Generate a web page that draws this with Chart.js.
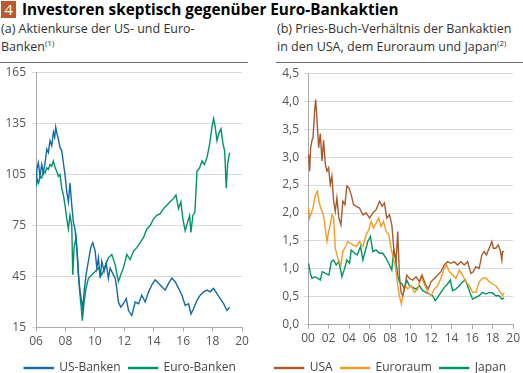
<!DOCTYPE html>
<html>
<head>
<meta charset="utf-8">
<script src="https://cdn.jsdelivr.net/npm/chart.js@4"></script>
<style>
  html, body { margin: 0; padding: 0; background: #fff; overflow: hidden; width: 523px; height: 373px; }
  body { position: relative; font-family: "Open Sans", "Noto Sans", sans-serif; }
  #title { position: absolute; left: 0; top: 0; font-size: 15.3px; font-weight: bold; color: #000; white-space: nowrap; line-height: 18px; }
  #title .num { display: inline-block; background: #bb5a2c; color: #fff; font-weight: normal; width: 15px; height: 17px; text-align: center; margin: 1px 6px 0 1px; line-height: 17px; }
  .sub { position: absolute; top: 20px; font-size: 12.5px; color: #333; line-height: 18px; white-space: nowrap; }
  .sub sup { font-size: 8px; vertical-align: 5px; line-height: 0; }
  .rule { position: absolute; top: 62px; height: 1px; border-top: 1.4px solid #6a6a6a; }
  canvas { position: absolute; }
</style>
</head>
<body>
<div id="title"><span class="num">4</span>Investoren skeptisch gegenüber Euro-Bankaktien</div>
<div class="sub" style="left:1px">(a) Aktienkurse der US- und Euro-<br>Banken<sup>(1)</sup></div>
<div class="sub" style="left:277px">(b) Pries-Buch-Verhältnis der Bankaktien<br>in den USA, dem Euroraum und Japan<sup>(2)</sup></div>
<div class="rule" style="left:0;width:248px"></div>
<div class="rule" style="left:276px;width:247px"></div>
<canvas id="c1" style="left:0;top:56px" width="262" height="328"></canvas>
<canvas id="c2" style="left:262px;top:56px" width="261" height="328"></canvas>
<script>
// ---- Panel (a): share prices ----
const leftTicks = [15, 45, 75, 105, 135, 165];
const leftYearTicks = ['06','08','10','12','14','16','18','20'];

const usYears = [2006.00,2006.05,2006.16,2006.27,2006.39,2006.50,2006.62,2006.73,2006.84,2006.95,2007.07,2007.18,2007.27,2007.34,2007.43,2007.52,2007.63,2007.75,2007.86,2007.97,2008.09,2008.20,2008.31,2008.43,2008.54,2008.65,2008.77,2008.88,2009.00,2009.11,2009.18,2009.27,2009.40,2009.56,2009.72,2009.86,2010.02,2010.13,2010.24,2010.36,2010.47,2010.63,2010.77,2010.92,2011.04,2011.15,2011.26,2011.38,2011.49,2011.60,2011.76,2011.94,2012.13,2012.29,2012.51,2012.74,2012.97,2013.19,2013.42,2013.65,2013.87,2014.10,2014.33,2014.55,2014.78,2015.01,2015.23,2015.46,2015.69,2015.92,2016.14,2016.37,2016.53,2016.71,2016.94,2017.16,2017.39,2017.62,2017.84,2018.07,2018.30,2018.52,2018.75,2018.98,2019.16];
const usBanken = [100,108,112,104,111,106,112,120,118,125,122,130,127,133,129,126,121,119,112,105,95,89,100,87,77,73,62,46,36,30,26,36,46,54,62,65,60,50,56,44,54,48,53,44,50,48,46,44,38,30,27,29,32,25,22,30,29,34,30,36,40,43,41,39,37,41,44,42,38,34,28,29,23,26,31,34,36,37,36,38,35,32,29,25,27];

const euYears = [2006.00,2006.09,2006.18,2006.27,2006.39,2006.50,2006.62,2006.73,2006.84,2006.95,2007.07,2007.18,2007.30,2007.41,2007.52,2007.63,2007.75,2007.86,2007.97,2008.09,2008.20,2008.31,2008.43,2008.50,2008.59,2008.72,2008.84,2008.95,2009.06,2009.15,2009.27,2009.40,2009.56,2009.79,2010.02,2010.24,2010.47,2010.70,2010.92,2011.15,2011.38,2011.60,2011.76,2011.94,2012.17,2012.40,2012.63,2012.85,2013.08,2013.31,2013.53,2013.76,2013.99,2014.21,2014.44,2014.67,2014.89,2015.12,2015.35,2015.51,2015.69,2015.85,2015.98,2016.14,2016.30,2016.44,2016.53,2016.66,2016.80,2016.94,2017.12,2017.28,2017.44,2017.62,2017.80,2017.96,2018.07,2018.18,2018.30,2018.41,2018.57,2018.71,2018.82,2018.93,2019.02,2019.16];
const euroBanken = [98,102,100,104,103,107,106,109,108,111,110,113,109,107,104,105,97,93,87,79,73,81,75,46,62,68,54,38,28,19,30,38,44,46,48,50,46,51,56,58,52,42,46,50,58,55,60,62,65,68,73,75,79,81,82,85,87,89,91,93,85,89,79,72,77,81,71,81,83,107,109,113,111,115,123,133,138,133,125,129,132,123,119,97,111,118];

// ---- Panel (b): price-to-book ratios ----
const rightTicks = [0, 0.5, 1, 1.5, 2, 2.5, 3, 3.5, 4, 4.5];
const rightYearTicks = ['00','02','04','06','08','10','12','14','16','18','20'];

const usaYears = [2000.06,2000.16,2000.26,2000.39,2000.49,2000.65,2000.75,2000.88,2001.04,2001.20,2001.36,2001.52,2001.69,2001.85,2002.01,2002.17,2002.33,2002.50,2002.66,2002.82,2003.01,2003.21,2003.40,2003.60,2003.79,2003.99,2004.21,2004.44,2004.70,2005.02,2005.35,2005.67,2006.00,2006.32,2006.64,2006.97,2007.23,2007.45,2007.68,2007.94,2008.17,2008.36,2008.59,2008.75,2008.91,2009.07,2009.24,2009.40,2009.63,2009.89,2010.21,2010.53,2010.86,2011.12,2011.44,2011.73,2011.99,2012.32,2012.64,2012.96,2013.29,2013.61,2013.94,2014.26,2014.58,2014.91,2015.23,2015.56,2015.88,2016.11,2016.37,2016.69,2016.95,2017.18,2017.40,2017.66,2017.92,2018.08,2018.31,2018.54,2018.73,2018.90,2018.96,2019.12];
const usaPB = [3.05,2.75,3.17,3.30,3.35,3.84,4.03,3.66,3.17,3.42,2.93,3.30,2.87,2.75,2.81,2.51,2.66,2.21,2.03,2.27,1.91,1.79,2.21,2.15,2.48,2.45,2.33,2.15,2.12,2.09,1.97,2.00,1.91,2.00,2.06,2.21,2.12,2.18,1.91,1.97,1.79,1.37,1.13,1.67,0.89,0.58,0.52,0.64,0.89,0.83,0.80,0.86,0.77,0.89,0.73,0.64,0.77,0.83,0.89,0.95,1.07,1.13,1.10,1.13,1.07,1.13,1.07,1.13,0.92,0.95,1.04,1.01,1.25,1.31,1.25,1.37,1.49,1.37,1.37,1.43,1.34,1.16,1.31,1.31];

const ezYears = [2000.06,2000.16,2000.32,2000.49,2000.65,2000.81,2000.91,2001.07,2001.23,2001.39,2001.56,2001.72,2001.85,2002.01,2002.17,2002.33,2002.50,2002.66,2002.82,2003.01,2003.21,2003.40,2003.66,2003.89,2004.12,2004.38,2004.70,2005.02,2005.35,2005.67,2005.93,2006.16,2006.38,2006.64,2006.90,2007.13,2007.36,2007.62,2007.88,2008.10,2008.33,2008.52,2008.75,2008.91,2009.11,2009.30,2009.50,2009.72,2010.05,2010.37,2010.70,2011.02,2011.34,2011.67,2011.99,2012.32,2012.64,2012.96,2013.29,2013.51,2013.77,2014.10,2014.42,2014.75,2015.07,2015.39,2015.72,2016.04,2016.37,2016.69,2017.01,2017.34,2017.66,2017.99,2018.31,2018.64,2018.96,2019.12];
const euroraumPB = [2.09,1.91,2.00,2.09,2.27,2.36,2.39,2.21,2.09,2.03,1.91,1.67,1.49,1.67,1.79,1.97,1.91,1.37,1.25,1.13,1.07,1.31,1.40,1.49,1.46,1.43,1.40,1.49,1.40,1.61,1.70,1.85,1.73,1.82,1.91,1.76,1.85,1.67,1.61,1.37,1.19,1.04,0.70,0.52,0.37,0.58,0.70,0.64,0.70,0.58,0.64,0.86,0.73,0.58,0.52,0.64,0.70,0.83,1.01,1.07,0.95,0.89,0.83,0.98,0.89,0.77,0.70,0.58,0.58,0.77,0.83,0.84,0.77,0.73,0.70,0.61,0.52,0.57];

const jpYears = [2000.06,2000.23,2000.39,2000.65,2000.97,2001.20,2001.39,2001.72,2002.04,2002.27,2002.50,2002.75,2003.01,2003.31,2003.57,2003.79,2004.05,2004.21,2004.54,2004.80,2005.12,2005.35,2005.61,2005.83,2006.09,2006.32,2006.64,2006.97,2007.29,2007.62,2007.94,2008.17,2008.36,2008.52,2008.75,2008.91,2009.17,2009.40,2009.63,2009.89,2010.21,2010.53,2010.86,2011.18,2011.51,2011.83,2012.15,2012.41,2012.64,2012.96,2013.29,2013.61,2013.87,2014.10,2014.42,2014.75,2015.07,2015.33,2015.56,2015.78,2016.04,2016.37,2016.69,2017.01,2017.34,2017.66,2017.99,2018.31,2018.64,2018.90,2019.12];
const japanPB = [1.10,0.92,0.83,0.86,0.83,0.80,0.95,0.92,0.89,1.13,1.16,1.07,1.13,0.86,1.01,1.16,1.10,1.34,1.28,1.25,1.40,1.16,1.34,1.49,1.58,1.31,1.34,1.28,1.28,1.19,1.07,0.98,1.34,1.19,0.89,0.77,0.73,0.64,0.80,0.70,0.67,0.64,0.70,0.61,0.58,0.55,0.52,0.43,0.49,0.58,0.67,0.73,0.80,0.61,0.64,0.70,0.77,0.80,0.70,0.58,0.46,0.49,0.52,0.58,0.55,0.58,0.57,0.52,0.52,0.46,0.48];

function pts(xs, ys) { return xs.map((x, i) => ({ x: x, y: ys[i] })); }

const FONT = '"Open Sans", "Noto Sans", sans-serif';
const TICK_COLOR = '#555';
const GRID = '#d9d9d9';

// shifts the legend box sideways after layout
const legendShift = {
  id: 'legendShift',
  afterLayout(chart, args, opts) {
    const l = chart.legend;
    if (l && opts && opts.dx) { l.left += opts.dx; l.right += opts.dx; }
  }
};

function ds(label, xs, ys, color) {
  return { label, data: pts(xs, ys), borderColor: color, backgroundColor: color,
           borderWidth: 1.4, pointRadius: 0, tension: 0 };
}

function makeChart(id, datasets, cfg) {
  return new Chart(document.getElementById(id), {
    type: 'line',
    data: { datasets },
    plugins: [legendShift],
    options: {
      responsive: false, animation: false, events: [],
      layout: { padding: cfg.padding },
      plugins: {
        tooltip: { enabled: false },
        legendShift: { dx: cfg.legendDx },
        legend: {
          position: 'bottom', align: cfg.legendAlign,
          labels: { boxWidth: 29, boxHeight: 1, padding: 8, color: '#444',
                    font: { family: FONT, size: 12 } }
        }
      },
      scales: {
        x: {
          type: 'linear', min: cfg.xMin, max: cfg.xMax,
          afterBuildTicks: (s) => { s.ticks = cfg.yearLabels.map((t, i) => ({ value: cfg.xMin + 2 * i })); },
          afterFit: (s) => { s.height = cfg.xHeight; },
          ticks: { callback: (v, i) => cfg.yearLabels[i], color: TICK_COLOR, padding: 3, maxRotation: 0,
                   font: { family: FONT, size: 12 } },
          grid: { drawOnChartArea: false, drawTicks: true, tickLength: 4, color: '#aaa' },
          border: { color: '#aaa' }
        },
        y: {
          min: cfg.yMin, max: cfg.yMax,
          afterBuildTicks: (s) => { s.ticks = cfg.yTicks.map(v => ({ value: v })); },
          afterFit: (s) => { s.width = cfg.yWidth; },
          ticks: { callback: cfg.yFormat, color: TICK_COLOR, padding: cfg.yPad,
                   font: { family: FONT, size: 12 } },
          grid: { color: GRID, tickLength: 4, drawTicks: true },
          border: { color: '#aaa' }
        }
      }
    }
  });
}

makeChart('c1', [
  ds('US-Banken', usYears, usBanken, '#1468a3'),
  ds('Euro-Banken', euYears, euroBanken, '#00936a')
], {
  padding: { left: 0, right: 20, top: 16.7, bottom: 0 },
  legendAlign: 'center', legendDx: 9,
  xMin: 2006, xMax: 2020, yearLabels: leftYearTicks, xHeight: 26.5,
  yMin: 15, yMax: 165, yTicks: leftTicks, yWidth: 36, yPad: 6,
  yFormat: (v) => String(v)
});

makeChart('c2', [
  ds('USA', usaYears, usaPB, '#a95b2e'),
  ds('Euroraum', ezYears, euroraumPB, '#f59b26'),
  ds('Japan', jpYears, japanPB, '#00945f')
], {
  padding: { left: 0, right: 9, top: 17.3, bottom: 0 },
  legendAlign: 'end', legendDx: 0,
  xMin: 2000, xMax: 2020, yearLabels: rightYearTicks, xHeight: 29.2,
  yMin: 0, yMax: 4.5, yTicks: rightTicks, yWidth: 46, yPad: 5,
  yFormat: (v) => v.toFixed(1).replace('.', ',')
});
</script>
</body>
</html>
